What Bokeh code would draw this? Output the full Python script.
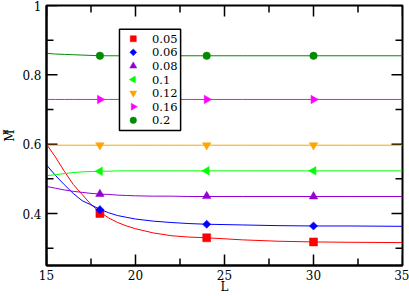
import numpy as np
from bokeh.plotting import figure
from bokeh.models import Range1d, FixedTicker, CustomJSTickFormatter, Title
from bokeh.core.properties import value
from bokeh.embed import file_html
from bokeh.resources import INLINE

# ---- data ----
L_points = [18, 24, 30]
L_fit = [15, 15.5, 16, 16.5, 17, 17.5, 18, 18.5, 19, 19.5, 20, 21, 22, 23, 24, 26, 28, 30, 32, 35]

series_labels = ["0.05", "0.06", "0.08", "0.1", "0.12", "0.16", "0.2"]

pts_005 = [0.400, 0.330, 0.318]
pts_006 = [0.411, 0.369, 0.364]
pts_008 = [0.456, 0.450, 0.449]
pts_010 = [0.522, 0.523, 0.523]
pts_012 = [0.597, 0.597, 0.597]
pts_016 = [0.729, 0.729, 0.729]
pts_020 = [0.855, 0.855, 0.855]

fit_005 = [0.600, 0.563, 0.522, 0.484, 0.455, 0.426, 0.404, 0.387, 0.374, 0.364,
           0.356, 0.344, 0.336, 0.332, 0.330, 0.324, 0.320, 0.318, 0.317, 0.316]
fit_006 = [0.540, 0.510, 0.483, 0.458, 0.437, 0.425, 0.412, 0.402, 0.394, 0.389,
           0.384, 0.378, 0.374, 0.371, 0.369, 0.367, 0.365, 0.364, 0.364, 0.363]
fit_008 = [0.478, 0.473, 0.468, 0.464, 0.461, 0.458, 0.456, 0.455, 0.453, 0.452,
           0.451, 0.450, 0.450, 0.449, 0.449, 0.449, 0.449, 0.449, 0.449, 0.449]
fit_010 = [0.509, 0.512, 0.515, 0.518, 0.520, 0.521, 0.522, 0.522, 0.523, 0.523,
           0.523, 0.523, 0.523, 0.523, 0.523, 0.523, 0.523, 0.523, 0.523, 0.523]
fit_012 = [0.597] * 20
fit_016 = [0.729] * 20
fit_020 = [0.862, 0.860, 0.859, 0.858, 0.857, 0.856, 0.855, 0.855, 0.855, 0.855,
           0.855, 0.855, 0.855, 0.855, 0.855, 0.855, 0.855, 0.855, 0.855, 0.855]

x_lim = [15, 35]
y_lim = [0.25, 1.0]
x_ticks = [15, 20, 25, 30, 35]
x_minor = [17.5, 22.5, 27.5, 32.5]
y_ticks = [0.4, 0.6, 0.8, 1.0]
y_minor = [0.3, 0.5, 0.7, 0.9]

points = [pts_005, pts_006, pts_008, pts_010, pts_012, pts_016, pts_020]
fits = [fit_005, fit_006, fit_008, fit_010, fit_012, fit_016, fit_020]

# ---- styles ----
colors = ["#ff0000", "#0000ff", "#9400d3", "#00ff00", "#ffa500", "#ff00ff", "#008b00"]
markers = ["square", "square", "triangle", "triangle", "inverted_triangle", "triangle", "circle"]
angles = [0, np.pi / 4, 0, np.pi / 2, 0, -np.pi / 2, 0]
sizes = [8, 5.8, 8.5, 8.5, 8.5, 8.5, 7.5]
leg_sizes = [6, 4.8, 7, 7, 7, 7, 6.5]

FONT = "DejaVu Serif"
W, H = 409, 296
BL, BR, BT, BB = 41, 7, 5, 29
FW, FH = W - BL - BR, H - BT - BB

p = figure(width=W, height=H, x_range=Range1d(*x_lim), y_range=Range1d(*y_lim),
           output_backend="svg", toolbar_location=None,
           min_border_left=BL, min_border_right=BR, min_border_top=BT, min_border_bottom=BB)
p.xgrid.visible = False
p.ygrid.visible = False
p.outline_line_color = "black"
p.outline_line_width = 2
p.background_fill_color = "white"
p.border_fill_color = "white"

# frame-pixel helper ranges for the legend (0,0 = frame top-left)
p.extra_x_ranges = {"px": Range1d(0, FW)}
p.extra_y_ranges = {"py": Range1d(FH, 0)}

for ax in (p.xaxis[0], p.yaxis[0]):
    ax.axis_line_color = "black"
    ax.axis_line_width = 2
    ax.major_tick_in = 0
    ax.major_tick_out = 0
    ax.minor_tick_in = 0
    ax.minor_tick_out = 0
    ax.major_label_text_font = FONT
    ax.major_label_text_font_size = "12px"
    ax.major_label_text_color = "black"
    ax.axis_label_text_font = FONT
    ax.axis_label_text_font_size = "12px"
    ax.axis_label_text_font_style = "normal"
    ax.axis_label_text_color = "black"

p.xaxis[0].ticker = FixedTicker(ticks=x_ticks, minor_ticks=x_minor)
p.yaxis[0].ticker = FixedTicker(ticks=y_ticks, minor_ticks=y_minor)
p.yaxis[0].formatter = CustomJSTickFormatter(code="return String(Math.round(tick*10)/10)")
p.xaxis[0].major_label_standoff = 4
p.yaxis[0].major_label_standoff = 5
p.xaxis[0].axis_label = "L"
p.xaxis[0].axis_label_standoff = -3
p.yaxis[0].axis_label = "M"
p.yaxis[0].axis_label_standoff = 2

# small pi beside the M of the y-axis title
p.add_layout(Title(text="π", align="right", offset=124, vertical_align="bottom",
                   standoff=-18, text_font=FONT, text_font_size="8.5px",
                   text_font_style="normal", text_color="black"), "left")

# inward ticks on all four sides (half of each dash is clipped by the frame)
tick_style = dict(line_color="black", line_width=1.5)
p.scatter(x_ticks, [y_lim[0]] * len(x_ticks), marker="dash", angle=np.pi / 2, size=22, **tick_style)
p.scatter(x_ticks, [y_lim[1]] * len(x_ticks), marker="dash", angle=np.pi / 2, size=22, **tick_style)
p.scatter(x_minor, [y_lim[0]] * len(x_minor), marker="dash", angle=np.pi / 2, size=14, **tick_style)
p.scatter(x_minor, [y_lim[1]] * len(x_minor), marker="dash", angle=np.pi / 2, size=14, **tick_style)
p.scatter([x_lim[0]] * len(y_ticks), y_ticks, marker="dash", size=22, **tick_style)
p.scatter([x_lim[1]] * len(y_ticks), y_ticks, marker="dash", size=22, **tick_style)
p.scatter([x_lim[0]] * len(y_minor), y_minor, marker="dash", size=14, **tick_style)
p.scatter([x_lim[1]] * len(y_minor), y_minor, marker="dash", size=14, **tick_style)

# curves and points
for pts, fit, c, mk, ang, sz in zip(points, fits, colors, markers, angles, sizes):
    p.line(L_fit, fit, line_color=c, line_width=1)
    p.scatter(L_points, pts, marker=mk, angle=ang, size=sz,
              fill_color=c, line_color=c, line_width=0.5)

# legend (drawn in frame pixels)
LEG_LEFT, LEG_TOP, LEG_W, LEG_H = 74, 24, 62, 102
LEG_MX, LEG_TX, LEG_Y0, LEG_DY = 88, 107, 33.5, 13.7
p.rect([LEG_LEFT + LEG_W / 2], [LEG_TOP + LEG_H / 2], width=LEG_W, height=LEG_H,
       x_range_name="px", y_range_name="py",
       fill_color="white", line_color="black", line_width=1.5)
leg_y = [LEG_Y0 + LEG_DY * i for i in range(len(series_labels))]
for i, (c, mk, ang, sz) in enumerate(zip(colors, markers, angles, leg_sizes)):
    p.scatter([LEG_MX], [leg_y[i]], marker=mk, angle=ang, size=sz,
              fill_color=c, line_color=c, line_width=0.5,
              x_range_name="px", y_range_name="py")
p.text([LEG_TX] * len(series_labels), leg_y, text=series_labels,
       x_range_name="px", y_range_name="py",
       text_font=value(FONT), text_font_size="11.5px", text_color="black",
       text_align="left", text_baseline="middle")

open("out.html", "w").write(file_html(p, INLINE))
